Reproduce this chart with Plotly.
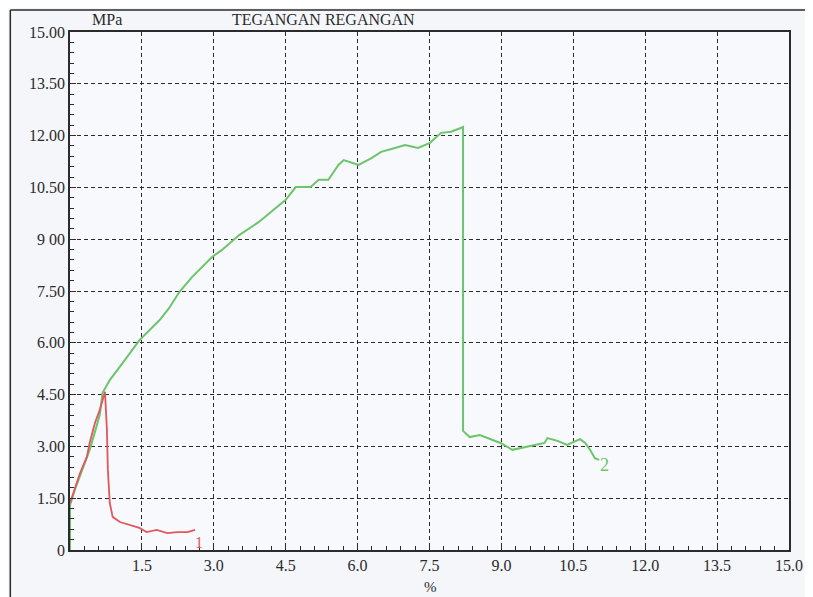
import plotly.graph_objects as go

# Series 2 (green)
strain_2 = [0, 0, 0.10, 0.21, 0.31, 0.41, 0.52, 0.62, 0.68, 0.83, 1.10, 1.45, 1.87, 2.07, 2.28,
            2.55, 2.97, 3.17, 3.53, 3.94, 4.50, 4.71, 5.02, 5.19, 5.39, 5.60, 5.71, 5.81, 6.02,
            6.29, 6.49, 6.78, 6.99, 7.26, 7.51, 7.74, 7.95, 8.15, 8.20, 8.20, 8.34, 8.55, 8.71,
            8.98, 9.23, 9.48, 9.69, 9.90, 9.96, 10.17, 10.37, 10.54, 10.64, 10.75, 10.85,
            10.95, 11.04]
stress_2 = [0, 1.30, 1.74, 2.17, 2.55, 2.90, 3.42, 3.91, 4.55, 4.92, 5.42, 6.08, 6.66, 7.01, 7.47,
            7.91, 8.49, 8.69, 9.12, 9.50, 10.14, 10.51, 10.51, 10.72, 10.72, 11.15, 11.29, 11.24,
            11.15, 11.35, 11.53, 11.64, 11.73, 11.64, 11.79, 12.08, 12.11, 12.22, 12.25, 3.45,
            3.27, 3.33, 3.24, 3.10, 2.90, 2.98, 3.04, 3.10, 3.24, 3.16, 3.04, 3.16, 3.21, 3.10,
            2.90, 2.66, 2.61]

# Series 1 (red)
strain_1 = [0, 0.21, 0.35, 0.41, 0.52, 0.62, 0.68, 0.73, 0.77, 0.79, 0.83, 0.89, 1.04, 1.24,
            1.45, 1.60, 1.81, 2.03, 2.24, 2.45, 2.61]
stress_1 = [1.36, 2.23, 2.69, 3.10, 3.68, 4.05, 4.34, 4.58, 3.48, 2.32, 1.36, 0.96, 0.81, 0.72,
            0.64, 0.52, 0.58, 0.49, 0.52, 0.52, 0.58]

x_ticks = [1.5, 3.0, 4.5, 6.0, 7.5, 9.0, 10.5, 12.0, 13.5, 15.0]
x_labels = ["1.5", "3.0", "4.5", "6.0", "7.5", "9.0", "10.5", "12.0", "13.5", "15.0"]
y_ticks = [0, 1.5, 3.0, 4.5, 6.0, 7.5, 9.0, 10.5, 12.0, 13.5, 15.0]
y_labels = ["0", "1.50", "3.00", "4.50", "6.00", "7.50", "9 00", "10.50", "12.00", "13.50", "15.00"]

title_text = "TEGANGAN REGANGAN"
y_unit = "MPa"
x_unit = "%"

GREEN = "#6cc46c"
RED = "#e0585c"
INK = "#2b2b2b"
FONT = "Liberation Serif, DejaVu Serif, serif"

fig = go.Figure()
fig.add_trace(go.Scatter(x=strain_2, y=stress_2, mode="lines",
                         line=dict(color=GREEN, width=2), showlegend=False))
fig.add_trace(go.Scatter(x=strain_1, y=stress_1, mode="lines",
                         line=dict(color=RED, width=1.8), showlegend=False))

axis_common = dict(
    showline=True, linecolor=INK, linewidth=1.5, mirror=True,
    showgrid=True, gridcolor=INK, gridwidth=1.3, griddash="4px,3px",
    zeroline=False, ticks="inside", ticklen=6, tickcolor=INK,
    tickfont=dict(family=FONT, size=16, color=INK),
    minor=dict(tickmode="linear", tick0=0, dtick=0.3, ticks="inside",
               ticklen=4, tickcolor=INK, showgrid=False),
    automargin=False,
)

fig.update_xaxes(range=[0, 15], tickmode="array", tickvals=x_ticks, ticktext=x_labels,
                 **axis_common)
fig.update_yaxes(range=[0, 15], tickmode="array", tickvals=y_ticks, ticktext=y_labels,
                 ticklabelstandoff=0, **axis_common)

annotations = [
    dict(text=title_text, x=0.353, y=1.0, yanchor="bottom", yshift=2,
         xref="paper", yref="paper", showarrow=False,
         font=dict(family=FONT, size=16, color=INK)),
    dict(text=y_unit, x=0.028, y=1.0, yanchor="bottom", yshift=2,
         xref="paper", yref="paper", showarrow=False,
         font=dict(family=FONT, size=16, color=INK)),
    dict(text=x_unit, x=0.502, y=-0.052, yanchor="top", xref="paper", yref="paper",
         showarrow=False, font=dict(family=FONT, size=15, color=INK)),
    dict(text="1", x=strain_1[-1] + 0.08, y=0.22, xref="x", yref="y", showarrow=False,
         font=dict(family=FONT, size=16, color=RED)),
    dict(text="2", x=strain_2[-1] + 0.12, y=2.45, xref="x", yref="y", showarrow=False,
         font=dict(family=FONT, size=18, color=GREEN)),
]

shapes = [
    dict(type="line", xref="paper", yref="paper", x0=-0.083, x1=-0.083, y0=-0.2, y1=1.0425,
         line=dict(color=INK, width=1.5)),
    dict(type="line", xref="paper", yref="paper", x0=-0.083, x1=1.1, y0=1.0425, y1=1.0425,
         line=dict(color=INK, width=1.5)),
]

fig.update_layout(
    width=805, height=589,
    margin=dict(l=62, r=24, t=24, b=47),
    paper_bgcolor="#f5f6fa", plot_bgcolor="#f8f9fc",
    annotations=annotations, shapes=shapes,
    font=dict(family=FONT, color=INK),
)

fig.write_html("out.html")
